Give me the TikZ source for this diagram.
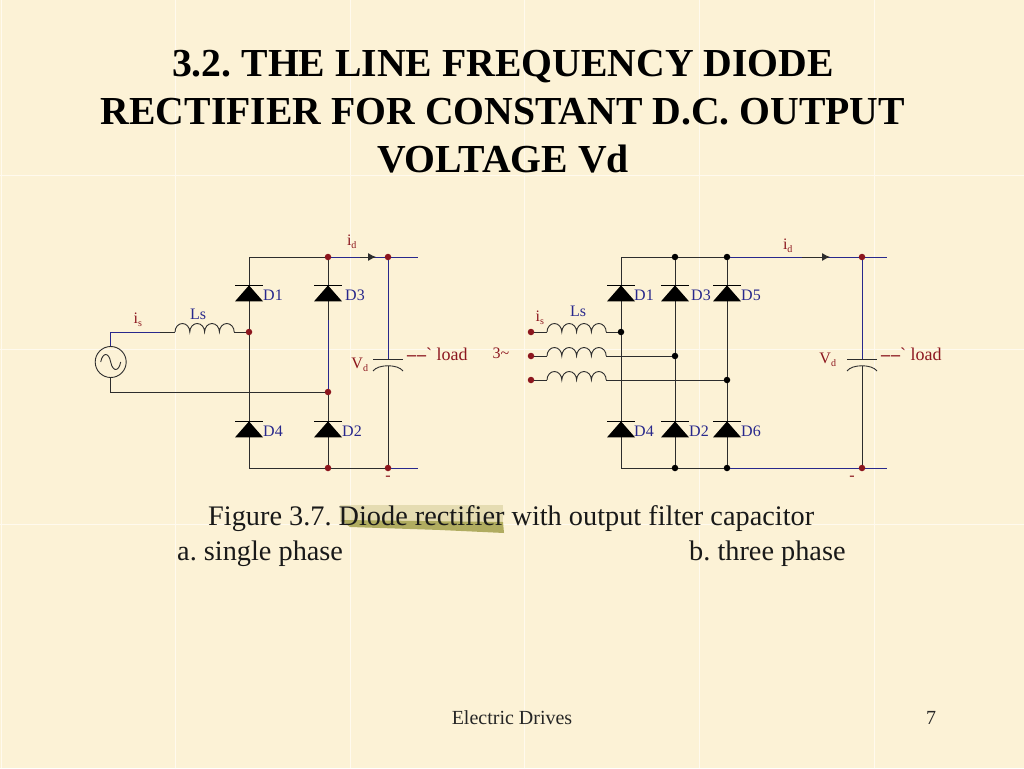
\documentclass[tikz,border=0pt]{standalone}
\usepackage{fontspec}
\setmainfont{Liberation Serif}
\usetikzlibrary{shapes.geometric}
\usetikzlibrary{arrows.meta}
\definecolor{paper}{RGB}{252,242,214}
\definecolor{seam}{RGB}{255,250,238}
\definecolor{marker}{RGB}{176,172,96}
\definecolor{wirered}{RGB}{140,22,30}
\definecolor{wireblue}{RGB}{40,40,140}
\definecolor{wiregrey}{RGB}{45,45,45}
\tikzstyle{wire}=[draw=wiregrey, line width=0.9pt]
\tikzstyle{bwire}=[draw=wireblue, line width=0.9pt]
\tikzstyle{flow}=[wire, -{Latex[length=8pt, width=8pt]}]
\tikzstyle{rdot}=[circle, fill=wirered, inner sep=0, minimum size=6.5pt]
\tikzstyle{kdot}=[circle, fill=black, inner sep=0, minimum size=6.5pt]
\tikzstyle{diode}=[isosceles triangle, isosceles triangle stretches, shape border rotate=90, fill=black,
                   inner sep=0, outer sep=0, minimum width=28pt, minimum height=16pt]
\tikzstyle{dlabel}=[text=wireblue, font=\fontsize{16}{16}\selectfont, inner sep=0, anchor=west]
\tikzstyle{rlabel}=[text=wirered, font=\fontsize{16}{16}\selectfont, inner sep=0]
\tikzstyle{heading}=[font=\fontsize{39.7}{48}\selectfont\bfseries, inner sep=0, align=center, text=black]
\tikzstyle{figtext}=[font=\fontsize{28.3}{28.3}\selectfont, inner sep=0, text=black!90, anchor=base west]
\tikzstyle{foottext}=[font=\fontsize{20}{20}\selectfont, inner sep=0, text=black!85, anchor=base]
\tikzset{inductor/.pic={
    \draw[wire] (0,0) arc (180:360:7.4 and 8.5) arc (180:360:7.4 and 8.5) arc (180:360:7.4 and 8.5) arc (180:360:7.4 and 8.5);
    \coordinate (-in) at (0,0);
    \coordinate (-out) at (59.2,0);
}}
\newcommand{\isub}[2]{#1\textsubscript{\fontsize{10}{10}\selectfont #2}}
\newcommand{\loadtext}{{\fontsize{18}{18}\selectfont\bfseries\textendash\kern1pt\textendash\mdseries\textasciigrave\ load}}
\begin{document}
\frenchspacing
\begin{tikzpicture}[x=1pt, y=-1pt]
    \fill[paper] (0,0) rectangle (1024,768);
    \useasboundingbox (0,0) rectangle (1024,768);
    % tile seams of the slide background
    \foreach \x in {1,175,350,524,699,874}
        \draw[seam, line width=0.8pt] (\x,0) -- (\x,768);
    \foreach \y in {175,349,524}
        \draw[seam, line width=0.8pt] (0,\y) -- (1024,\y);

    \node[heading] (head) at (503,112) {3.2. THE LINE FREQUENCY DIODE\\RECTIFIER FOR CONSTANT D.C. OUTPUT\\VOLTAGE Vd};

    % highlighter stroke below the text
    \fill[marker, opacity=0.3] (340,505) -- (503,505) -- (503,522) -- (340,522) -- cycle;
    \fill[marker] (341,520) -- (503,522) -- (504,533) -- (440,530) -- (350,527) -- cycle;
    \node[figtext] (fig) at (208,525) {Figure 3.7. Diode rectifier with output filter capacitor};
    \node[figtext] (capa) at (177,560) {a. single phase};
    \node[figtext] (capb) at (689,560) {b. three phase};
    \node[foottext] (foot) at (512,724) {Electric Drives};
    \node[foottext] (page) at (931,724) {7};

    % single phase bridge
    \node[rdot] (A1) at (328,257) {};
    \node[rdot] (A2) at (388,257) {};
    \node[rdot] (A3) at (249,332) {};
    \node[rdot] (A4) at (328,392) {};
    \node[rdot] (A5) at (328,468) {};
    \node[rdot] (A6) at (388,468) {};
    \coordinate (Atl) at (249,257);
    \coordinate (Abl) at (249,468);
    \coordinate (Atr) at (418,257);
    \coordinate (Abr) at (418,468);
    \coordinate (Asrc1) at (110.7,332);
    \coordinate (Asrc2) at (110.7,392);
    \coordinate (Acap1) at (388,359);
    \coordinate (Acap2) at (388,366);
    \node[draw=wiregrey, line width=0.9pt, circle, inner sep=0, minimum size=31pt] (Asrc) at (110.7,362) {};
    \draw[wire] ([xshift=-10]Asrc.center) .. controls +(2,-10) and +(-2,-10) .. (Asrc.center) .. controls +(2,10) and +(-2,10) .. ([xshift=10]Asrc.center);
    \pic (AL) at (175,332) {inductor};
    \draw[bwire] (Asrc.north) -- (Asrc1) -- (160,332);
    \draw[wire] (160,332) -- (AL-in);
    \draw[wire] (AL-out) -- (A3);
    \draw[wire] (Asrc.south) -- (Asrc2) -- (A4);
    \draw[wire] (A1) -- (Atl) -- (A3) -- (Abl) -- (A5);
    \draw[wire] (A1) -- (328,320);
    \draw[bwire] (328,320) -- (A4);
    \draw[wire] (A4) -- (A5);
    \draw[wire] (A5) -- (A6);
    \draw[bwire] (A6) -- (Abr);
    \draw[bwire] (A1) -- (A2) -- (Atr);
    \draw[bwire] (A2) -- (Acap1);
    \draw[wire] (Acap2) -- (A6);
    \draw[flow] (360,257) -- (376,257);

    % three phase bridge
    \node[kdot] (B1) at (675,257) {};
    \node[kdot] (B2) at (727,257) {};
    \node[rdot] (B3) at (862,257) {};
    \node[kdot] (B4) at (621,332) {};
    \node[kdot] (B5) at (675,356) {};
    \node[kdot] (B6) at (727,380) {};
    \node[kdot] (B7) at (675,468) {};
    \node[kdot] (B8) at (727,468) {};
    \node[rdot] (B9) at (862,468) {};
    \node[rdot] (P1) at (531,332) {};
    \node[rdot] (P2) at (531,356) {};
    \node[rdot] (P3) at (531,380) {};
    \coordinate (Btl) at (621,257);
    \coordinate (Bbl) at (621,468);
    \coordinate (Btr) at (887,257);
    \coordinate (Bbr) at (887,468);
    \coordinate (Bcap1) at (862,359);
    \coordinate (Bcap2) at (862,366);
    \pic (BL1) at (547,332) {inductor};
    \pic (BL2) at (547,356) {inductor};
    \pic (BL3) at (547,380) {inductor};
    \draw[wire] (P1) -- (BL1-in);
    \draw[wire] (P2) -- (BL2-in);
    \draw[wire] (P3) -- (BL3-in);
    \draw[wire] (BL1-out) -- (B4);
    \draw[wire] (BL2-out) -- (B5);
    \draw[wire] (BL3-out) -- (B6);
    \draw[wire] (B1) -- (Btl) -- (B4) -- (Bbl) -- (B7) -- (B8);
    \draw[wire] (B1) -- (B5) -- (B7);
    \draw[wire] (B2) -- (B6) -- (B8);
    \draw[wire] (B1) -- (B2);
    \draw[bwire] (B2) -- (B3) -- (Btr);
    \draw[bwire] (B8) -- (B9) -- (Bbr);
    \draw[bwire] (B3) -- (Bcap1);
    \draw[wire] (Bcap2) -- (B9);
    \draw[flow] (802,257) -- (830,257);

    % capacitors
    \foreach \c in {A,B} {
        \draw[wire] ([xshift=-15]\c cap1) -- ([xshift=15]\c cap1);
        \draw[wire] ([xshift=-15,yshift=-5]\c cap2) .. controls +(5,-7) and +(-5,-7) .. ([xshift=15,yshift=-5]\c cap2);
    }

    % diodes, with the cathode bar at the apex
    \foreach \name/\x/\y in {D1/249/295, D3/328/295, D4/249/431, D2/328/431,
                             E1/621/295, E3/675/295, E5/727/295, E4/621/431, E2/675/431, E6/727/431} {
        \node[diode] (\name) at (\x,\y) {};
        \draw[line width=1.4pt] ([xshift=-14]\name.apex) -- ([xshift=14]\name.apex);
    }
    \node[dlabel] (lD1) at (263,295) {D1};
    \node[dlabel] (lD3) at (345,295) {D3};
    \node[dlabel] (lD4) at (263,431) {D4};
    \node[dlabel] (lD2) at (342,431) {D2};
    \node[dlabel] (lE1) at (634,295) {D1};
    \node[dlabel] (lE3) at (691,295) {D3};
    \node[dlabel] (lE5) at (741,295) {D5};
    \node[dlabel] (lE4) at (634,431) {D4};
    \node[dlabel] (lE2) at (689,431) {D2};
    \node[dlabel] (lE6) at (741,431) {D6};

    % labels
    \node[rlabel] (lid) at (352,242) {\isub{i}{d}};
    \node[rlabel] (lis) at (138,320) {\isub{i}{s}};
    \node[dlabel] (lLs) at (190,314) {Ls};
    \node[rlabel] (lVd) at (360,365) {\isub{V}{d}};
    \node[rlabel, anchor=west] (lload) at (407,354) {\loadtext};
    \node[rlabel] (lminus) at (388,478) {-};
    \node[rlabel] (lidb) at (788,246) {\isub{i}{d}};
    \node[rlabel] (lisb) at (540,318) {\isub{i}{s}};
    \node[dlabel] (lLsb) at (570,311) {Ls};
    \node[rlabel] (lVdb) at (828,360) {\isub{V}{d}};
    \node[rlabel, anchor=west] (lloadb) at (881,354) {\loadtext};
    \node[rlabel] (lminusb) at (852,478) {-};
    \node[rlabel] (l3ph) at (501,353) {3\textasciitilde};
\end{tikzpicture}
\end{document}
